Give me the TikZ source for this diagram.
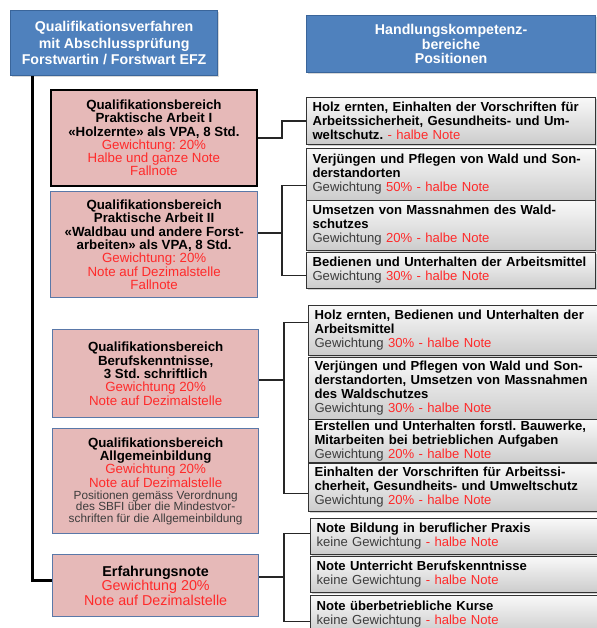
\documentclass[tikz,border=0pt]{standalone}
\usepackage{fontspec}
\setmainfont{Liberation Sans}
\usetikzlibrary{shadows}
\definecolor{hdblue}{HTML}{4F81BD}
\definecolor{hdborder}{HTML}{3A659A}
\definecolor{pinkfill}{HTML}{E6B9B8}
\definecolor{pinkborder}{HTML}{5A78A8}
\definecolor{redtxt}{HTML}{FF2A2A}
\definecolor{graytxt}{HTML}{3C3C3C}
\definecolor{boxline}{HTML}{333333}
\newcommand{\rt}[1]{\textcolor{redtxt}{#1}}
\newcommand{\gtx}[1]{\textcolor{graytxt}{#1}}
\newcommand{\smtx}[1]{{\fontsize{11.8}{11.5}\selectfont\textcolor{graytxt}{#1}}}
\newcommand{\lne}[1]{\mbox{#1}}
\begin{document}
\frenchspacing
\begin{tikzpicture}[x=1pt,y=-1pt,
  hdbox/.style={draw=hdborder, line width=1.2pt, fill=hdblue, text=white,
    font=\fontsize{14.2}{16.5}\selectfont\bfseries, align=center, inner sep=0pt,
    anchor=north west, drop shadow={shadow xshift=1.2pt, shadow yshift=-1.2pt, opacity=0.3}},
  pinkbox/.style={draw=pinkborder, line width=1.3pt, fill=pinkfill, align=center,
    inner sep=0pt, anchor=north west, font=\fontsize{13.3}{13.3}\selectfont},
  graybox/.style={draw=boxline, line width=1.1pt, top color=gray!5, bottom color=gray!40,
    text=black, align=left, text width=277pt, inner xsep=6pt, inner ysep=0pt,
    anchor=north west, font=\fontsize{13.1}{14}\selectfont,
    drop shadow={shadow xshift=1.2pt, shadow yshift=-1.2pt, opacity=0.35}},
  conn/.style={draw=black!85, line width=1.3pt},
  mainline/.style={draw=black, line width=3pt}]
\useasboundingbox (0,0) rectangle (596,628);
\fill[white] (0,0) rectangle (596,628);

% header boxes
\node[hdbox, minimum width=207pt, minimum height=65pt] (b1) at (10,10)
  {Qualifikationsverfahren\\mit Abschlussprüfung\\Forstwartin / Forstwart EFZ};
\node[hdbox, minimum width=289pt, minimum height=57pt, font=\fontsize{14.2}{14.5}\selectfont\bfseries] (b2) at (306,15)
  {Handlungskompetenz-\\bereiche\\Positionen};

% left pink boxes
\node[pinkbox, draw=black, line width=1.8pt, minimum width=206pt, minimum height=96pt] (p1) at (50,89)
  {\textbf{Qualifikationsbereich}\\\textbf{Praktische Arbeit I}\\\textbf{«Holzernte» als VPA, 8 Std.}\\
   \rt{Gewichtung: 20\%}\\\rt{Halbe und ganze Note}\\\rt{Fallnote}};
\node[pinkbox, minimum width=207pt, minimum height=106pt] (p2) at (50,191)
  {\textbf{Qualifikationsbereich}\\\textbf{Praktische Arbeit II}\\\textbf{«Waldbau und andere Forst-}\\\textbf{arbeiten» als VPA, 8 Std.}\\
   \rt{Gewichtung: 20\%}\\\rt{Note auf Dezimalstelle}\\\rt{Fallnote}};
\node[pinkbox, minimum width=206pt, minimum height=88pt] (p3) at (52,329)
  {\textbf{Qualifikationsbereich}\\\textbf{Berufskenntnisse,}\\\textbf{3 Std. schriftlich}\\
   \rt{Gewichtung 20\%}\\\rt{Note auf Dezimalstelle}};
\node[pinkbox, minimum width=206pt, minimum height=105pt] (p4) at (52,428)
  {\textbf{Qualifikationsbereich}\\\textbf{Allgemeinbildung}\\
   \rt{Gewichtung 20\%}\\\rt{Note auf Dezimalstelle}\\[-1.5pt]
   \smtx{Positionen gemäss Verordnung}\\[-1.8pt]\smtx{des SBFI über die Mindestvor-}\\[-1.8pt]\smtx{schriften für die Allgemeinbildung}};
\node[pinkbox, minimum width=206pt, minimum height=62pt, font=\fontsize{14.3}{14.5}\selectfont] (p5) at (52,554)
  {\textbf{Erfahrungsnote}\\\rt{Gewichtung 20\%}\\\rt{Note auf Dezimalstelle}};

% right gray boxes
\node[graybox, minimum height=47pt] (g1) at (306,97)
  {\lne{\textbf{Holz ernten, Einhalten der Vorschriften für}}\\\lne{\textbf{Arbeitssicherheit, Gesundheits- und Um-}}\\\lne{\textbf{weltschutz.} \rt{- halbe Note}}};
\node[graybox, minimum height=52pt] (g2) at (306,148)
  {\lne{\textbf{Verjüngen und Pflegen von Wald und Son-}}\\\lne{\textbf{derstandorten}}\\\lne{\gtx{Gewichtung} \rt{50\% - halbe Note}}};
\node[graybox, minimum height=50pt] (g3) at (306,200)
  {\lne{\textbf{Umsetzen von Massnahmen des Wald-}}\\\lne{\textbf{schutzes}}\\\lne{\gtx{Gewichtung} \rt{20\% - halbe Note}}};
\node[graybox, minimum height=36pt] (g4) at (306,252)
  {\lne{\textbf{Bedienen und Unterhalten der Arbeitsmittel}}\\\lne{\gtx{Gewichtung} \rt{30\% - halbe Note}}};

\node[graybox, minimum height=50pt] (g5) at (308,305)
  {\lne{\textbf{Holz ernten, Bedienen und Unterhalten der}}\\\lne{\textbf{Arbeitsmittel}}\\\lne{\gtx{Gewichtung} \rt{30\% - halbe Note}}};
\node[graybox, minimum height=62pt] (g6) at (308,357)
  {\lne{\textbf{Verjüngen und Pflegen von Wald und Son-}}\\\lne{\textbf{derstandorten, Umsetzen von Massnahmen}}\\\lne{\textbf{des Waldschutzes}}\\\lne{\gtx{Gewichtung} \rt{30\% - halbe Note}}};
\node[graybox, minimum height=43pt] (g7) at (308,419)
  {\lne{\textbf{Erstellen und Unterhalten forstl. Bauwerke,}}\\\lne{\textbf{Mitarbeiten bei betrieblichen Aufgaben}}\\\lne{\gtx{Gewichtung} \rt{20\% - halbe Note}}};
\node[graybox, minimum height=48pt] (g8) at (308,463)
  {\lne{\textbf{Einhalten der Vorschriften für Arbeitssi-}}\\\lne{\textbf{cherheit, Gesundheits- und Umweltschutz}}\\\lne{\gtx{Gewichtung} \rt{20\% - halbe Note}}};

\node[graybox, minimum height=36pt] (g9) at (310,518)
  {\lne{\textbf{Note Bildung in beruflicher Praxis}}\\\lne{\gtx{keine Gewichtung} \rt{- halbe Note}}};
\node[graybox, minimum height=36pt] (g10) at (310,556)
  {\lne{\textbf{Note Unterricht Berufskenntnisse}}\\\lne{\gtx{keine Gewichtung} \rt{- halbe Note}}};
\node[graybox, minimum height=38pt] (g11) at (310,595)
  {\lne{\textbf{Note überbetriebliche Kurse}}\\\lne{\gtx{keine Gewichtung} \rt{- halbe Note}}};

% main line
\draw[mainline] ([xshift=22pt]b1.south west) |- ([yshift=5pt]p5.west);

% connectors
\coordinate (j1) at (282,0);
\draw[conn] (p1.east) -| (j1 |- p1.east) |- (g1.west);

\coordinate (j2) at (282,233);
\draw[conn] (p2.east |- j2) -- (j2);
\draw[conn] ([yshift=-11pt]g2.west) -| (j2) |- ([yshift=-5pt]g4.west);

\coordinate (j3) at (284,380);
\draw[conn] (p3.east |- j3) -- (j3);
\draw[conn] ([yshift=8pt]g5.west) -| (j3) |- ([yshift=-6pt]g8.west);

\coordinate (j4) at (284,577);
\draw[conn] (p5.east |- j4) -- (j4);
\draw[conn] ([yshift=3pt]g9.west) -| (j4) |- ([yshift=-7pt]g11.west);
\end{tikzpicture}
\end{document}
